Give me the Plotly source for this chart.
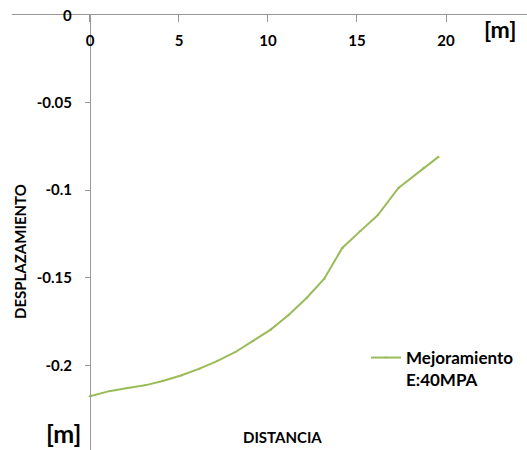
import plotly.graph_objects as go

# Settlement profile along the section
distancia = [0.0, 1.08, 2.12, 3.09, 4.08, 5.11, 6.12, 7.11, 8.15, 9.14,
             10.15, 11.14, 12.17, 13.16, 14.17, 15.17, 16.16, 17.33, 18.73, 19.57]
desplazamiento = [-0.2176, -0.2147, -0.2129, -0.2114, -0.2089, -0.2058, -0.2020,
                  -0.1977, -0.1925, -0.1862, -0.1796, -0.1714, -0.1615, -0.1505,
                  -0.1330, -0.1235, -0.1143, -0.0987, -0.0873, -0.0810]
serie = "Mejoramiento<br>E:40MPA"

x_ticks = [0, 5, 10, 15, 20]
x_labels = ["0", "5", "10", "15", "20"]
y_ticks = [0, -0.05, -0.1, -0.15, -0.2]
y_labels = ["0", "-0.05", "-0.1", "-0.15", "-0.2"]

X_MIN, X_MAX = -4.38, 24.55
Y_MIN, Y_MAX = -0.2483, 0.0

W, H = 527, 450
ML, MT = 12, 15
FONT = "Lato"
AXIS = "#989898"
GREEN = "#9BBB59"
TICKFONT = dict(family=FONT, size=15, color="black", weight="bold")


def px_x(px):
    return (px - ML) / (W - ML)


def px_y(py):
    return 1 - (py - MT) / (H - MT)


fig = go.Figure()
fig.add_trace(go.Scatter(
    x=distancia, y=desplazamiento, name=serie,
    mode="lines+markers",
    line=dict(color=GREEN, width=2),
    marker=dict(color=GREEN, size=3, symbol="triangle-up"),
))

fig.update_layout(
    width=W, height=H,
    margin=dict(l=ML, r=0, t=MT, b=0),
    paper_bgcolor="white", plot_bgcolor="white",
    font=dict(family=FONT, color="black"),
    showlegend=True,
    legend=dict(
        x=px_x(366), y=px_y(340), xanchor="left", yanchor="top",
        font=dict(family=FONT, size=17, color="black", weight="bold"),
        valign="top", bgcolor="rgba(0,0,0,0)", itemwidth=30,
    ),
    # horizontal axis runs along y = 0 (top edge)
    xaxis=dict(
        range=[X_MIN, X_MAX], side="top", anchor="y",
        showgrid=False, zeroline=False,
        showline=True, linecolor=AXIS, linewidth=1,
        ticks="inside", ticklen=7, tickcolor=AXIS,
        ticklabelposition="inside", ticklabelstandoff=13,
        tickvals=x_ticks, ticktext=x_labels,
        tickfont=TICKFONT,
    ),
    # vertical axis crosses the horizontal one at x = 0
    yaxis=dict(
        range=[Y_MIN, Y_MAX], anchor="free",
        position=(0 - X_MIN) / (X_MAX - X_MIN),
        showgrid=False, zeroline=False,
        showline=True, linecolor=AXIS, linewidth=1,
        ticks="outside", ticklen=5, tickcolor=AXIS,
        ticklabelstandoff=10,
        tickvals=y_ticks[1:], ticktext=y_labels[1:],
        tickfont=TICKFONT,
    ),
)

# the y = 0 label sits on the crossing with the horizontal axis
fig.add_annotation(
    text=y_labels[0], xref="paper", yref="y",
    x=px_x(74), y=y_ticks[0], xanchor="right", yanchor="middle",
    showarrow=False, font=TICKFONT,
)

# Axis titles and units
notes = [
    dict(text="DESPLAZAMIENTO", x=20, y=252, size=15, angle=-90),
    dict(text="DISTANCIA", x=282, y=437, size=15, angle=0),
    dict(text="[m]", x=500, y=29, size=23, angle=0),
    dict(text="[m]", x=63, y=433, size=25, angle=0),
]
for n in notes:
    fig.add_annotation(
        text=n["text"], textangle=n["angle"],
        xref="paper", yref="paper", x=px_x(n["x"]), y=px_y(n["y"]),
        xanchor="center", yanchor="middle", showarrow=False,
        font=dict(family=FONT, size=n["size"], color="black", weight="bold"),
    )

fig.write_html("out.html")
